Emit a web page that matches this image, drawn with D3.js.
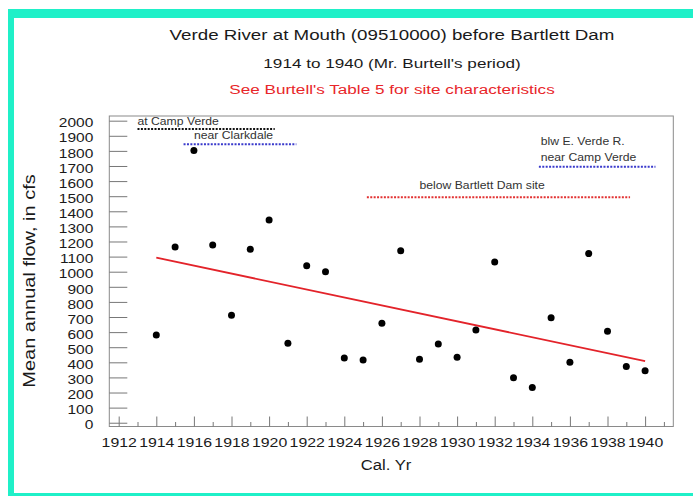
<!DOCTYPE html>
<html>
<head>
<meta charset="utf-8">
<script src="https://cdn.jsdelivr.net/npm/d3@7"></script>
<style>
  html, body { margin: 0; padding: 0; background: #ffffff; }
  svg { display: block; }
  text { font-family: "Liberation Sans", Arial, sans-serif; }
</style>
</head>
<body>
<svg id="chart" width="693" height="496"></svg>
<script>
// ---- data ----
const years = [1914, 1915, 1916, 1917, 1918, 1919, 1920, 1921, 1922, 1923, 1924, 1925, 1926, 1927,
               1928, 1929, 1930, 1931, 1932, 1933, 1934, 1935, 1936, 1937, 1938, 1939, 1940];
const flows = [581, 1163, 1803, 1177, 711, 1148, 1342, 526, 1040, 1000, 428, 415, 658, 1138,
               420, 521, 433, 614, 1065, 298, 234, 695, 400, 1120, 605, 373, 344];
const trendYears = [1914, 1940];
const trendFlows = [1093, 408];

const yTicks = [0, 100, 200, 300, 400, 500, 600, 700, 800, 900, 1000,
                1100, 1200, 1300, 1400, 1500, 1600, 1700, 1800, 1900, 2000];
const xMajorTicks = [1912, 1914, 1916, 1918, 1920, 1922, 1924, 1926, 1928, 1930, 1932, 1934, 1936, 1938, 1940];
const xMinorTicks = [1913, 1915, 1917, 1919, 1921, 1923, 1925, 1927, 1929, 1931, 1933, 1935, 1937, 1939, 1941];

// station period annotations (years / cfs)
const stationNames  = ["at Camp Verde", "near Clarkdale", "below Bartlett Dam site", "blw E. Verde R.|near Camp Verde"];
const stationStart  = [1913, 1915.45, 1925.2, 1934.35];
const stationEnd    = [1920.3, 1921.45, 1939.2, 1940.55];
const stationLevel  = [1945, 1844, 1493, 1695];
const stationLabelX = [1913, 1916, 1928, 1934.45];
const stationLabelY = [1971, 1877, 1546, 1836];

const titleLines = ["Verde River at Mouth (09510000) before Bartlett Dam",
                    "1914 to 1940 (Mr. Burtell's period)",
                    "See Burtell's Table 5 for site characteristics"];
const yTitle = "Mean annual flow, in cfs";
const xTitle = "Cal. Yr";

// ---- styles ----
const SX = 1.25;           // horizontal stretch of the original lettering
const stationColors = ["#111111", "#3a3acc", "#e23232", "#3a3acc"];
const teal = "#1ff0c8";

const svg = d3.select("#chart");

// frame
svg.append("rect").attr("x", 8).attr("y", 9).attr("width", 700).attr("height", 500).attr("fill", teal);
svg.append("rect").attr("x", 14).attr("y", 18).attr("width", 700).attr("height", 475).attr("fill", "#ffffff");

const plot = {left: 109.3, right: 673.3, top: 116, bottom: 426.5};

const x = d3.scaleLinear().domain([1911.5, 1941.5]).range([plot.left, plot.right]);
const y = d3.scaleLinear().domain([-25, 2031]).range([plot.bottom, plot.top]);

function stretch(sel, sx) {
  sel.each(function() {
    const t = d3.select(this);
    const tx = +t.attr("x") || 0;
    const ty = +t.attr("y") || 0;
    t.attr("x", null).attr("y", null)
     .attr("transform", `translate(${tx},${ty}) scale(${sx},1)`);
  });
}

// titles
const titleSizes = [15, 13.7, 13.7];
const titleBase = [40, 68.3, 94];
const titleColors = ["#1a1a1a", "#1a1a1a", "#e8262a"];
titleLines.forEach((t, i) => {
  svg.append("text")
    .attr("transform", `translate(392,${titleBase[i]}) scale(${SX},1)`)
    .attr("text-anchor", "middle")
    .attr("font-size", titleSizes[i])
    .attr("fill", titleColors[i])
    .text(t);
});

// plot frame
svg.append("rect")
  .attr("x", plot.left).attr("y", plot.top)
  .attr("width", plot.right - plot.left).attr("height", plot.bottom - plot.top)
  .attr("fill", "none").attr("stroke", "#8a8a8a").attr("stroke-width", 1);

// y axis
const yAxis = svg.append("g")
  .attr("transform", `translate(${plot.left},0)`)
  .call(d3.axisLeft(y).tickValues(yTicks).tickFormat(d3.format("d"))
        .tickSize(-18).tickSizeOuter(0).tickPadding(16));
yAxis.select(".domain").remove();
yAxis.selectAll(".tick line").attr("stroke", "#777");
yAxis.selectAll(".tick text")
  .attr("font-size", 12.4).attr("fill", "#1a1a1a").attr("dy", "0.5em")
  .call(stretch, SX);

// x axis major
const xAxis = svg.append("g")
  .attr("transform", `translate(0,${plot.bottom})`)
  .call(d3.axisBottom(x).tickValues(xMajorTicks).tickFormat(d3.format("d"))
        .tickSize(-10).tickSizeOuter(0).tickPadding(11.3));
xAxis.select(".domain").remove();
xAxis.selectAll(".tick line").attr("stroke", "#777");
xAxis.selectAll(".tick text")
  .attr("font-size", 12.7).attr("fill", "#1a1a1a")
  .call(stretch, SX);

// x axis minor
const xMinor = svg.append("g")
  .attr("transform", `translate(0,${plot.bottom})`)
  .call(d3.axisBottom(x).tickValues(xMinorTicks).tickFormat("").tickSize(-4.5).tickSizeOuter(0));
xMinor.select(".domain").remove();
xMinor.selectAll(".tick line").attr("stroke", "#777");

// axis titles
svg.append("text")
  .attr("transform", `translate(35,281) rotate(-90) scale(${SX},1)`)
  .attr("text-anchor", "middle").attr("font-size", 16).attr("fill", "#1a1a1a")
  .text(yTitle);
svg.append("text")
  .attr("transform", `translate(386,469.5) scale(1.21,1)`)
  .attr("text-anchor", "middle").attr("font-size", 13.8).attr("fill", "#1a1a1a")
  .text(xTitle);

// station annotations
stationNames.forEach((name, i) => {
  svg.append("line")
    .attr("x1", x(stationStart[i])).attr("x2", x(stationEnd[i]))
    .attr("y1", y(stationLevel[i])).attr("y2", y(stationLevel[i]))
    .attr("stroke", stationColors[i]).attr("stroke-width", 2)
    .attr("stroke-dasharray", "2,1.4");
  const lines = name.split("|");
  lines.forEach((ln, j) => {
    svg.append("text")
      .attr("transform", `translate(${x(stationLabelX[i])},${y(stationLabelY[i]) + j * 15.5}) scale(1.22,1)`)
      .attr("font-size", 10).attr("fill", "#333")
      .text(ln);
  });
});

// trend line
svg.append("path")
  .datum(trendYears.map((yr, i) => [yr, trendFlows[i]]))
  .attr("d", d3.line().x(d => x(d[0])).y(d => y(d[1])))
  .attr("fill", "none").attr("stroke", "#e3232a").attr("stroke-width", 1.8);

// points
svg.append("g").selectAll("circle")
  .data(years.map((yr, i) => ({yr, v: flows[i]})))
  .join("circle")
  .attr("cx", d => x(d.yr)).attr("cy", d => y(d.v))
  .attr("r", 3.5).attr("fill", "#000");
</script>
</body>
</html>
